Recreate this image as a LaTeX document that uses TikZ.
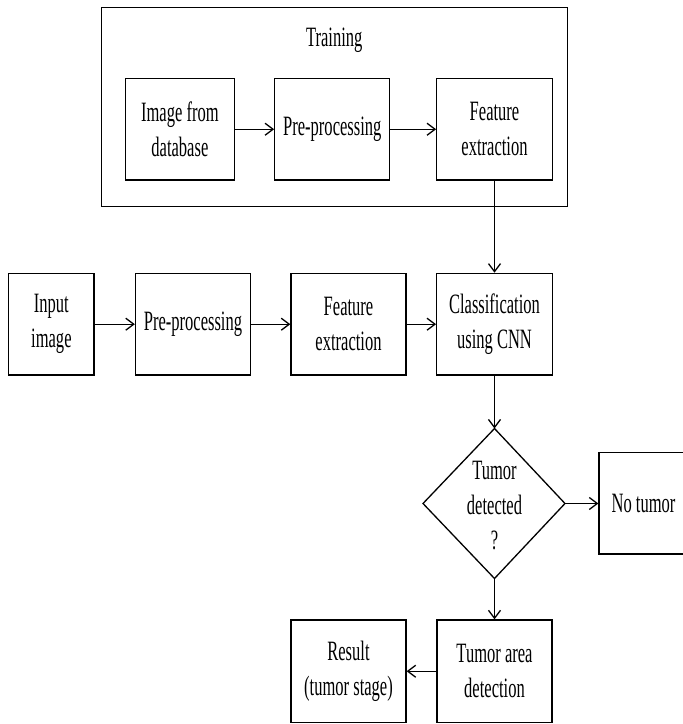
\documentclass[tikz,border=0pt]{standalone}
\usepackage{fontspec}
\setmainfont{Liberation Serif}[FakeStretch=0.59]
\usetikzlibrary{arrows.meta}
\begin{document}
\begin{tikzpicture}[x=1pt,y=-1pt,
  txt/.style={inner sep=0pt, align=center, font=\fontsize{28}{35}\selectfont},
  box/.style={txt, draw, line width=1.3pt},
  arr/.style={-{Straight Barb[length=8pt,width=12pt]}, line width=1.3pt}]
\useasboundingbox (0,0) rectangle (683,724);
\clip (0,0) rectangle (683,724);
% training group
\node[draw, line width=1pt, inner sep=0pt, minimum width=466.5pt, minimum height=199.5pt] (train) at (334.25,106.75) {};
\node[txt] (trainlabel) at (334.25,40) {Training};
\node[box, minimum width=109pt, minimum height=101.5pt] (tifd) at (179.9,129.25) {Image from\\database};
\node[box, minimum width=115pt, minimum height=101.5pt] (tpp) at (332.3,129.25) {Pre-processing};
\node[box, minimum width=115.5pt, minimum height=101.5pt] (tfe) at (494.5,129.25) {Feature\\extraction};
% main row
\node[box, minimum width=85.3pt, minimum height=101.7pt] (in) at (51.4,324.2) {Input\\image};
\node[box, minimum width=115pt, minimum height=101.7pt] (pp) at (193,324.2) {Pre-processing};
\node[box, minimum width=115pt, minimum height=101.7pt] (fe) at (348.5,324.2) {Feature\\extraction};
\node[box, minimum width=115.5pt, minimum height=101.7pt] (cl) at (494.5,324.2) {Classification\\using CNN};
% decision
\coordinate (dt) at (494.5,428.5);
\coordinate (dr) at (565,503.5);
\coordinate (db) at (494.5,578.5);
\coordinate (dl) at (423,503.5);
\draw[line width=1.3pt] (dt) -- (dr) -- (db) -- (dl) -- cycle;
\node[txt] (dtext) at (494.5,506) {Tumor\\detected\\?};
\node[box, minimum width=89pt, minimum height=101.6pt] (no) at (643.5,503.2) {No tumor};
% bottom row
\node[box, minimum width=115pt, minimum height=102.5pt] (tad) at (494.5,671.25) {Tumor area\\detection};
\node[box, minimum width=115pt, minimum height=102.5pt] (res) at (348.5,671.25) {Result\\(tumor stage)};
% connectors
\draw[arr] (tifd) -- (tpp);
\draw[arr] (tpp) -- (tfe);
\draw[arr] (tfe) -- (cl);
\draw[arr] (in) -- (pp);
\draw[arr] (pp) -- (fe);
\draw[arr] (fe) -- (cl);
\draw[arr] (cl) -- (dt);
\draw[arr] (dr) -- (no.west |- dr);
\draw[arr] (db) -- (tad);
\draw[arr] (tad) -- (res);
\end{tikzpicture}
\end{document}
